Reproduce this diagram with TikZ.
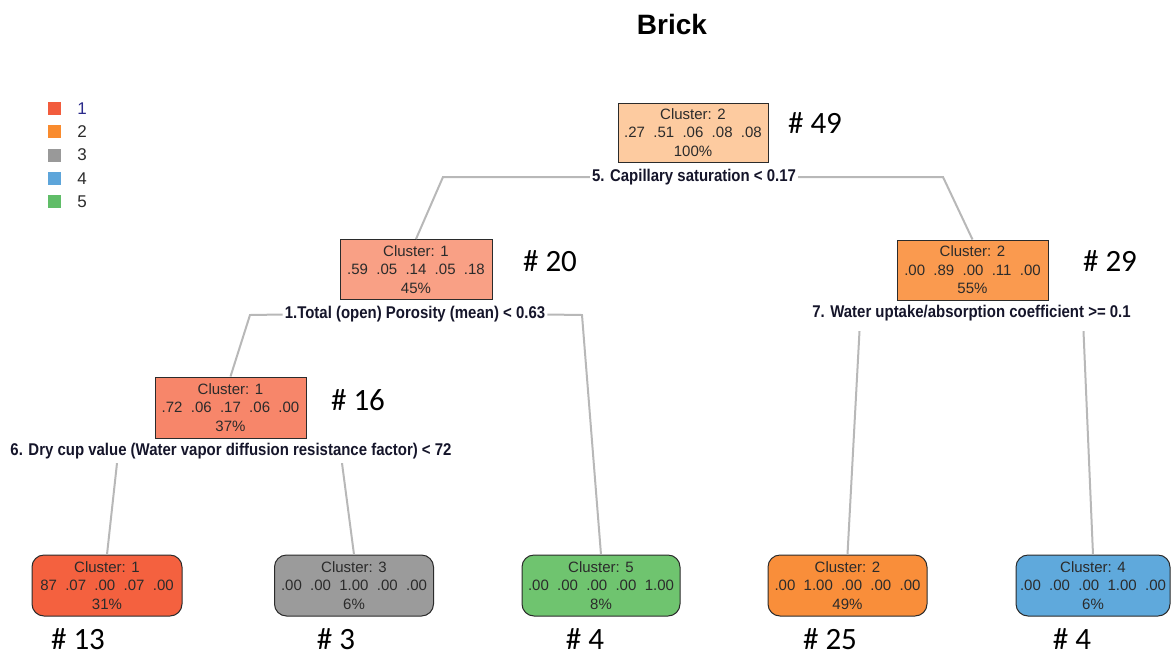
\documentclass[tikz,border=0pt]{standalone}
\usepackage{fontspec}
\setmainfont{Liberation Sans}
\newfontfamily\condbold[FakeStretch=0.88]{Liberation Sans Bold}
\newfontfamily\calib{Carlito}
\definecolor{rootc}{HTML}{FDCBA0}
\definecolor{n20c}{HTML}{F9A085}
\definecolor{n29c}{HTML}{FA9A4F}
\definecolor{n16c}{HTML}{F7866A}
\definecolor{l1c}{HTML}{F4613F}
\definecolor{l2c}{HTML}{9B9B9B}
\definecolor{l3c}{HTML}{6FC46F}
\definecolor{l4c}{HTML}{F98E3A}
\definecolor{l5c}{HTML}{5FA9DC}
\definecolor{g1}{HTML}{F25C3D}
\definecolor{g2}{HTML}{F98B2E}
\definecolor{g3}{HTML}{999999}
\definecolor{g4}{HTML}{5DA5DA}
\definecolor{g5}{HTML}{60BD68}
\definecolor{edgec}{HTML}{B8B8B8}
\definecolor{txt}{HTML}{2B2B2B}
\definecolor{navy}{HTML}{2A2A8A}
\definecolor{labc}{HTML}{15152A}
\tikzset{
  inner/.style={draw=txt, line width=1pt, align=center, inner sep=0pt,
    text=txt, font=\fontsize{15}{18.5}\selectfont},
  leaf/.style={inner, rounded corners=12pt},
  splitlab/.style={font=\condbold\fontsize{17}{19}\selectfont, text=labc, inner sep=0pt},
  countlab/.style={font=\calib\fontsize{31}{31}\selectfont, inner sep=0pt},
  conn/.style={draw=edgec, line width=2pt},
  legsq/.style={fill=#1, minimum size=13pt, inner sep=0pt},
  legnum/.style={font=\fontsize{17}{17}\selectfont, text=txt, inner sep=0pt}
}
\begin{document}
\begin{tikzpicture}[x=1pt,y=-1pt]
\useasboundingbox (0,0) rectangle (1171,657);
% title
\node[font=\bfseries\fontsize{28}{28}\selectfont, inner sep=0pt] (title) at (672,24) {Brick};
% legend
\node[legsq=g1] (sq1) at (54,108.3) {};
\node[legsq=g2] (sq2) at (54,131.7) {};
\node[legsq=g3] (sq3) at (54,155) {};
\node[legsq=g4] (sq4) at (54,178.3) {};
\node[legsq=g5] (sq5) at (54,201.7) {};
\node[legnum, text=navy] (ln1) at (82,108.3) {1};
\node[legnum] (ln2) at (82,131.7) {2};
\node[legnum] (ln3) at (82,155) {3};
\node[legnum] (ln4) at (82,178.3) {4};
\node[legnum] (ln5) at (82,201.7) {5};
% internal nodes
\node[inner, fill=rootc, minimum width=150pt, minimum height=59pt] (root) at (693,132.5)
  {Cluster: 2\\.27~~.51~~.06~~.08~~.08\\100\%};
\node[inner, fill=n20c, minimum width=152pt, minimum height=60pt] (n20) at (416,269.5)
  {Cluster: 1\\.59~~.05~~.14~~.05~~.18\\45\%};
\node[inner, fill=n29c, minimum width=151pt, minimum height=60pt] (n29) at (972.5,270)
  {Cluster: 2\\.00~~.89~~.00~~.11~~.00\\55\%};
\node[inner, fill=n16c, minimum width=151pt, minimum height=61pt] (n16) at (230.5,407.5)
  {Cluster: 1\\.72~~.06~~.17~~.06~~.00\\37\%};
% leaves
\node[leaf, fill=l1c, minimum width=150pt, minimum height=61pt] (leaf1) at (107,585.5)
  {Cluster: 1\\87~~.07~~.00~~.07~~.00\\31\%};
\node[leaf, fill=l2c, minimum width=159pt, minimum height=61pt] (leaf2) at (354,585.5)
  {Cluster: 3\\.00~~.00~~1.00~~.00~~.00\\6\%};
\node[leaf, fill=l3c, minimum width=158pt, minimum height=61pt] (leaf3) at (601,585.5)
  {Cluster: 5\\.00~~.00~~.00~~.00~~1.00\\8\%};
\node[leaf, fill=l4c, minimum width=159pt, minimum height=61pt] (leaf4) at (847.5,585.5)
  {Cluster: 2\\.00~~1.00~~.00~~.00~~.00\\49\%};
\node[leaf, fill=l5c, minimum width=154pt, minimum height=61pt] (leaf5) at (1093,585.5)
  {Cluster: 4\\.00~~.00~~.00~~1.00~~.00\\6\%};
% split labels
\node[splitlab] (s5) at (694,177) {5. Capillary saturation < 0.17};
\node[splitlab] (s1) at (415,314.5) {1.Total (open) Porosity (mean) < 0.63};
\node[splitlab] (s7) at (971.5,313) {7. Water uptake/absorption coefficient >= 0.1};
\node[splitlab] (s6) at (231,451) {6. Dry cup value (Water vapor diffusion resistance factor) < 72};
% counts
\node[countlab] (c49) at (815,123) {\# 49};
\node[countlab] (c20) at (550,261) {\# 20};
\node[countlab] (c29) at (1110,261) {\# 29};
\node[countlab] (c16) at (358,400) {\# 16};
\node[countlab] (c13) at (78,639) {\# 13};
\node[countlab] (c3) at (336,639) {\# 3};
\node[countlab] (c4a) at (585,639) {\# 4};
\node[countlab] (c25) at (830,639) {\# 25};
\node[countlab] (c4b) at (1072,639) {\# 4};
% elbow coordinates
\coordinate (e5l) at (443,177);
\coordinate (e5r) at (943,177);
\coordinate (e1l) at (250,315);
\coordinate (e1r) at (582,315);
% connectors
\draw[conn] ([xshift=-2pt]s5.west) -- (e5l) -- (n20.north);
\draw[conn] ([xshift=2pt]s5.east) -- (e5r) -- (n29.north);
\draw[conn] ([xshift=-2pt]s1.west) -- (e1l) -- (n16.north);
\draw[conn] ([xshift=2pt]s1.east) -- (e1r) -- (leaf3.north);
\draw[conn] ([xshift=-114pt,yshift=-4pt]s6.south) -- (leaf1.north);
\draw[conn] ([xshift=111pt,yshift=-4pt]s6.south) -- (leaf2.north);
\draw[conn] ([xshift=-112pt,yshift=-10pt]s7.south) -- (leaf4.north);
\draw[conn] ([xshift=112pt,yshift=-10pt]s7.south) -- (leaf5.north);
\end{tikzpicture}
\end{document}
